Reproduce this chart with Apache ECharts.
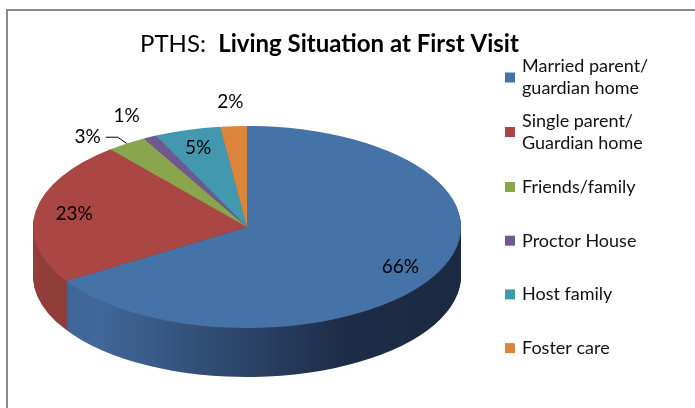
<!DOCTYPE html>
<html>
<head>
<meta charset="utf-8">
<title>PTHS: Living Situation at First Visit</title>
<script src="https://cdn.jsdelivr.net/npm/echarts@6/dist/echarts.min.js"></script>
<style>
html, body { margin: 0; padding: 0; width: 695px; height: 408px; overflow: hidden; background: #fff; }
#pie { position: absolute; left: 0; top: 0; width: 695px; transform-origin: 0 0; }
#front { position: absolute; left: 0; top: 0; width: 695px; height: 408px; }
</style>
</head>
<body>
<div id="pie"></div>
<div id="front"></div>
<script>
// data
var categories = ['Married parent/\nguardian home', 'Single parent/\nGuardian home', 'Friends/family', 'Proctor House', 'Host family', 'Foster care'];
var percents = [66, 23, 3, 1, 5, 2];

// styles
var topColors = ['#4572a7', '#aa4643', '#89a54e', '#71588f', '#4198af', '#db843d'];
var sideColors = [
	['#3e6393', '#41689a', '#1d2d47', '#1b2a42'],
	['#923e3b', '#8e3b38', '#6a2a28', '#642826'],
	['#7a9345', '#778f43', '#55662f', '#4f5f2c'],
	['#644e7f', '#614c7b', '#453758', '#413352'],
	['#3a889c', '#388497', '#285e6c', '#255865'],
	['#c47636', '#bf7335', '#8a5326', '#814d23']
];
var fontName = 'Lato';

// fake 3d: pie drawn round, then squashed with css
var S = 0.472;      // squash factor
var CX = 247, CY = 227, R = 214, DEPTH = 49;

function toScreenY(y) {
	return CY + (y - CY) * S;
}

//---------- pie body ----------
var pieDom = document.getElementById('pie');
pieDom.style.height = (408 / S) + 'px';
pieDom.style.transform = 'scaleY(' + S + ')';
var pieChart = echarts.init(pieDom, null, { renderer: 'svg' });

function sliceData(colorOf) {
	return percents.map(function (v, i) {
		return { name: categories[i], value: v, itemStyle: { color: colorOf(i) } };
	});
}
function sideGradient(i) {
	var c = sideColors[i];
	return new echarts.graphic.LinearGradient(CX - R, 0, CX + R, 0, [
		{ offset: 0, color: c[0] },
		{ offset: 0.15, color: c[1] },
		{ offset: 0.72, color: c[2] },
		{ offset: 1, color: c[3] }
	], true);
}
function basePie(centerY, data) {
	return {
		type: 'pie',
		silent: true,
		radius: R,
		center: [CX, centerY],
		startAngle: 90,
		clockwise: true,
		label: { show: false },
		labelLine: { show: false },
		itemStyle: { borderWidth: 0 },
		emphasis: { disabled: true },
		data: data
	};
}
var pieSeries = [];
// side wall: stack of darker pies, deepest first
for (var k = DEPTH; k >= 1; k--) {
	pieSeries.push(basePie((CY + k) / S, sliceData(sideGradient)));
}
// top face
pieSeries.push(basePie(CY / S, sliceData(function (i) { return topColors[i]; })));
pieChart.setOption({ animation: false, series: pieSeries });

//---------- title, legend, labels ----------
var front = echarts.init(document.getElementById('front'));

function innerLabel(params) {
	var r = params.labelRect;
	return {
		x: r.x + r.width / 2,
		y: toScreenY(r.y + r.height / 2),
		align: 'center',
		verticalAlign: 'middle'
	};
}
function outerLabel(params) {
	var r = params.labelRect;
	var pts = (params.labelLinePoints || []).map(function (p) {
		return [p[0], toScreenY(p[1])];
	});
	return {
		x: r.x + r.width,
		y: toScreenY(r.y + r.height / 2),
		align: 'right',
		verticalAlign: 'middle',
		labelLinePoints: pts
	};
}
function labelPie(radius, shown, position, layout) {
	return {
		type: 'pie',
		silent: true,
		radius: radius,
		center: [CX, CY],
		startAngle: 90,
		clockwise: true,
		avoidLabelOverlap: false,
		itemStyle: { color: 'rgba(0,0,0,0)', borderWidth: 0 },
		emphasis: { disabled: true },
		label: {
			position: position,
			color: '#000',
			fontFamily: fontName,
			fontSize: 19,
			formatter: function (p) { return p.value + '%'; }
		},
		labelLine: { show: position === 'outside', length: 16, length2: 12, lineStyle: { color: '#000', width: 1 } },
		labelLayout: layout,
		data: percents.map(function (v, i) {
			return { name: categories[i], value: v, label: { show: shown.indexOf(i) >= 0 } };
		})
	};
}
function legendItems(from, to) {
	var arr = [];
	for (var i = from; i < to; i++) {
		arr.push({ name: categories[i], itemStyle: { color: topColors[i] } });
	}
	return arr;
}
function legendBox(top, items, gap, twoLine) {
	return {
		orient: 'vertical',
		left: 505,
		top: top,
		padding: 0,
		itemGap: gap,
		itemWidth: 10,
		itemHeight: 10,
		icon: 'rect',
		selectedMode: false,
		textStyle: {
			fontFamily: fontName,
			fontSize: 18,
			lineHeight: 22,
			color: '#111',
			padding: twoLine ? [22, 0, 0, 2] : [0, 0, 0, 2]
		},
		data: items
	};
}

front.setOption({
	animation: false,
	title: {
		text: '{a|PTHS:  }{b|Living Situation at First Visit}',
		left: 140,
		top: 30,
		padding: 0,
		textStyle: {
			rich: {
				a: { fontFamily: fontName, fontSize: 24, lineHeight: 28, fontWeight: 'normal', color: '#000' },
				b: { fontFamily: fontName, fontSize: 24, lineHeight: 28, fontWeight: 'bold', color: '#000' }
			}
		}
	},
	legend: [
		legendBox(44.5, legendItems(0, 1), 0, true),
		legendBox(99, legendItems(1, 2), 0, true),
		legendBox(176, legendItems(2, 6), 31.7, false)
	],
	graphic: [{
		type: 'rect',
		silent: true,
		shape: { x: 7, y: 10, width: 700, height: 420 },
		style: { fill: 'none', stroke: '#8a8a8a', lineWidth: 2 }
	}],
	series: [
		labelPie([130, 214], [0, 1, 4], 'inside', innerLabel),
		labelPie([250, 274], [3, 5], 'inside', innerLabel),
		labelPie(R, [2], 'outside', outerLabel)
	]
});
</script>
</body>
</html>
